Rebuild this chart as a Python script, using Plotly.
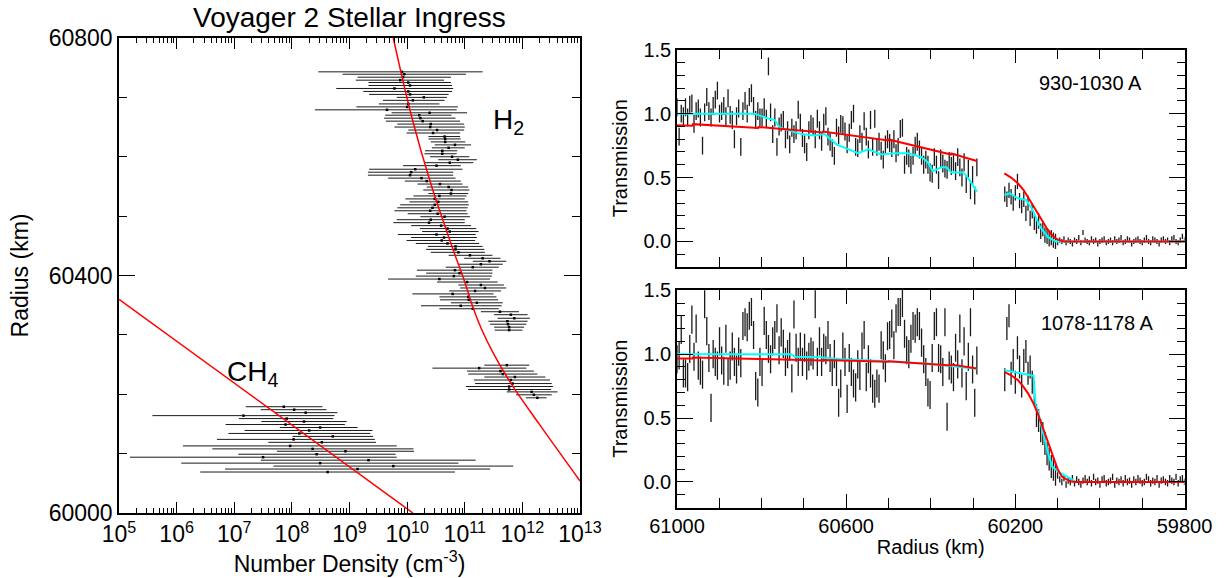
import numpy as np
import plotly.graph_objects as go

# ---------------- Left panel: number density profiles ----------------
H2_R = [60743, 60739, 60734, 60729, 60725, 60720, 60715, 60710, 60705, 60700,
        60695, 60689, 60684, 60679, 60674, 60670, 60665, 60660, 60655, 60650,
        60645, 60640, 60634, 60630, 60625, 60620, 60615, 60610, 60605, 60600,
        60595, 60590, 60585, 60579, 60574, 60569, 60564, 60559, 60554, 60549,
        60544, 60538,
        60534, 60529, 60524, 60519, 60514, 60509, 60504, 60499, 60494, 60489,
        60484, 60479, 60474, 60469, 60464, 60459, 60454, 60449, 60444, 60439,
        60434, 60429, 60424, 60419, 60414, 60409, 60404, 60399, 60394, 60389,
        60384, 60379, 60374, 60369, 60364, 60359, 60354, 60349, 60344, 60339,
        60334, 60328, 60323, 60318, 60313, 60308,
        60249, 60244, 60239, 60234, 60229, 60224, 60218, 60213, 60208, 60204,
        60199, 60194]
H2_LOG_LO = [8.46, 8.88, 9.14, 9.11, 9.33, 9.33, 8.77, 9.24, 9.34, 9.82,
             9.58, 9.51, 9.12, 8.40, 9.73, 9.62, 9.60, 9.63, 9.83, 9.78,
             10.02, 9.99, 10.37, 10.37, 10.41, 10.48, 10.43, 10.31, 10.30, 10.40,
             10.54, 10.31, 9.93, 9.34, 9.32, 9.32, 9.67, 9.96, 10.18, 10.34,
             10.28, 10.37,
             10.11, 9.97, 10.04, 9.88, 9.83, 9.78, 10.01, 10.23, 9.82, 9.76,
             10.07, 10.22, 10.26, 9.84, 10.07, 9.99, 10.15, 10.36, 10.33, 10.41,
             10.72, 10.99, 11.14, 10.89, 10.67, 10.17, 10.33, 10.15, 9.67, 10.52,
             10.89, 10.92, 10.73, 10.09, 10.56, 10.57, 10.76, 10.24, 10.56, 11.28,
             11.51, 11.57, 11.41, 11.44, 11.51, 11.52,
             11.34, 10.44, 11.04, 11.06, 11.34, 11.16, 11.18, 11.02, 11.06, 11.73,
             11.89, 12.06]
H2_LOG_HI = [11.31, 11.02, 10.76, 10.64, 10.76, 10.78, 10.80, 10.78, 10.72, 10.69,
             10.65, 10.56, 10.88, 10.86, 11.04, 10.77, 10.84, 10.92, 10.99, 11.00,
             10.99, 10.92, 10.92, 10.93, 11.01, 11.11, 11.00, 10.87, 10.86, 11.08,
             11.21, 11.15, 10.93, 10.96, 10.80, 10.80, 10.84, 10.93, 10.96, 11.06,
             11.08, 11.06,
             11.03, 11.00, 11.06, 11.07, 11.05, 11.03, 11.05, 11.09, 11.00, 11.00,
             11.11, 11.20, 11.24, 11.19, 11.21, 11.18, 11.25, 11.31, 11.34, 11.35,
             11.48, 11.62, 11.72, 11.66, 11.59, 11.48, 11.48, 11.47, 11.44, 11.57,
             11.68, 11.72, 11.63, 11.50, 11.55, 11.58, 11.66, 11.64, 11.59, 11.94,
             12.09, 12.13, 12.09, 12.07, 12.03, 12.00,
             12.12, 12.07, 12.20, 12.26, 12.40, 12.48, 12.51, 12.53, 12.50, 12.61,
             12.51, 12.42]
H2_LOG_C = [9.91, 9.95, 9.93, 9.88, 10.02, 10.05, 9.78, 10.02, 10.05, 10.29,
            10.10, 10.02, 10.00, 9.65, 10.39, 10.21, 10.23, 10.27, 10.41, 10.40,
            10.52, 10.45, 10.65, 10.66, 10.66, 10.83, 10.72, 10.61, 10.61, 10.78,
            10.88, 10.74, 10.51, 10.14, 10.07, 10.05, 10.25, 10.34, 10.57, 10.72,
            10.77, 10.76,
            10.56, 10.48, 10.54, 10.48, 10.44, 10.40, 10.53, 10.65, 10.41, 10.38,
            10.59, 10.70, 10.74, 10.51, 10.64, 10.60, 10.70, 10.84, 10.84, 10.89,
            11.09, 11.31, 11.43, 11.28, 11.14, 10.83, 10.91, 10.81, 10.56, 11.04,
            11.28, 11.35, 11.18, 10.79, 11.06, 11.07, 11.21, 10.93, 11.14, 11.61,
            11.80, 11.86, 11.74, 11.75, 11.77, 11.77,
            11.73, 11.25, 11.62, 11.66, 11.87, 11.80, 11.83, 11.77, 11.77, 12.16,
            12.20, 12.26]

CH4_R = [60179, 60174, 60169, 60164, 60159, 60154, 60149, 60144, 60139, 60134,
         60129, 60124, 60119, 60113, 60108, 60104, 60099, 60094, 60089, 60084,
         60079, 60074, 60069]
CH4_LOG_LO = [7.20, 7.46, 7.69, 5.58, 7.08, 7.47, 6.85, 7.79, 7.18, 6.90,
              8.01, 6.70, 7.59, 6.11, 6.62, 7.74, 7.07, 5.19, 7.46, 6.08,
              7.68, 6.84, 6.41]
CH4_LOG_HI = [8.53, 8.60, 8.79, 8.74, 8.72, 8.95, 8.92, 9.14, 9.40, 9.36,
              9.41, 9.44, 9.46, 9.82, 10.11, 10.12, 9.80, 9.82, 11.19, 10.89,
              11.84, 11.44, 10.83]
CH4_LOG_C = [7.86, 8.04, 8.24, 7.16, 7.91, 8.21, 7.89, 8.49, 8.30, 8.13,
             8.71, 8.03, 8.52, 7.97, 8.36, 8.93, 8.43, 7.50, 9.33, 8.49,
             9.76, 9.14, 8.62]

H2_FIT_R = [60800, 60667, 60555, 60443, 60392, 60350, 60310, 60270, 60220, 60150, 60054]
H2_FIT_LOG = [9.76, 10.08, 10.41, 10.80, 10.99, 11.13, 11.29, 11.49, 11.79, 12.29, 13.0]
CH4_FIT_R = [60360, 60000]
CH4_FIT_LOG = [5.0, 10.1]

DECADES = [5, 6, 7, 8, 9, 10, 11, 12, 13]

# ---------------- Right panels: transmission ----------------
TOP1_START, TOP1_END = 61000, 60291
TOP1 = [1.05, 0.82, 1.00, 0.98, 1.05, 0.97, 1.07, 1.08, 0.92, 1.02,
        1.04, 0.97, 0.75, 1.01, 1.13, 1.02, 0.97, 1.06, 1.11, 1.18,
        1.00, 1.02, 1.06, 0.98, 1.12, 0.99, 0.95, 0.80, 0.98, 1.04,
        0.74, 1.02, 1.10, 1.00, 1.13, 1.16, 1.06, 0.95, 1.02, 0.97,
        0.97, 1.05, 0.96, 1.37, 1.01, 0.84, 0.97, 0.74, 0.90, 0.93,
        0.95, 0.80, 0.87, 0.76, 0.89, 0.84, 0.87, 1.03, 0.93, 0.81,
        0.76, 0.70, 0.87, 0.92, 0.90, 0.80, 0.96, 0.87, 0.78, 0.93,
        0.98, 0.82, 0.78, 0.73, 0.67, 0.89, 0.83, 0.92, 0.91, 0.86,
        0.76, 0.85, 0.95, 1.00, 0.74, 0.73, 0.84, 0.78, 0.94, 0.82,
        0.72, 0.95, 0.74, 0.96, 0.74, 0.78, 0.71, 0.64, 0.76, 0.80,
        0.77, 0.73, 0.80, 0.69, 0.74, 0.88, 0.89, 0.60, 0.67, 0.65,
        0.60, 0.67, 0.75, 0.78, 0.72, 0.67, 0.60, 0.64, 0.60, 0.54,
        0.53, 0.66, 0.60, 0.48, 0.65, 0.61, 0.57, 0.56, 0.63, 0.59,
        0.62, 0.55, 0.66, 0.58, 0.50, 0.62, 0.45, 0.57, 0.40, 0.52, 0.36, 0.58]
TOP2_START, TOP2_END = 60225, 59800
TOP2 = [0.37, 0.33, 0.40, 0.35, 0.30, 0.38, 0.47, 0.32, 0.28, 0.33,
        0.22, 0.30, 0.18, 0.24, 0.15, 0.12, 0.16, 0.08, 0.10, 0.05,
        0.04, 0.02, 0.03, 0.01, 0.00, -0.01, 0.01, 0.00, 0.02, -0.01,
        0.01, 0.00, -0.02, 0.01, 0.00, 0.03, -0.01, 0.07, 0.01, 0.00,
        -0.01, 0.02, 0.00, 0.01, -0.02, 0.00, 0.01, 0.02, -0.01, 0.00,
        0.01, -0.01, 0.02, 0.00, 0.01, 0.03, -0.01, 0.00, 0.02, 0.01,
        -0.02, 0.00, 0.01, 0.02, 0.00, -0.01, 0.01, 0.03, 0.00, -0.01,
        0.02, 0.01, 0.00, -0.02, 0.01, 0.02, 0.00, 0.01, -0.01, 0.02,
        0.03, 0.00, -0.01, 0.01, 0.04, 0.01]
BOT1 = [0.96, 0.99, 1.19, 0.85, 0.85, 0.82, 1.04, 1.27, 0.98, 1.20,
        0.91, 0.87, 0.84, 1.39, 1.18, 0.97, 0.58, 1.00, 0.94, 0.91,
        1.10, 0.95, 0.87, 1.12, 0.86, 0.91, 1.06, 0.94, 0.88, 1.02,
        0.93, 1.22, 1.25, 1.21, 1.30, 1.33, 1.15, 0.75, 0.70, 0.94,
        0.86, 1.26, 1.15, 1.04, 0.96, 1.10, 1.15, 1.28, 1.03, 1.17,
        1.08, 0.94, 1.00, 1.06, 0.81, 1.31, 1.05, 0.94, 1.06, 0.94,
        1.05, 0.91, 0.98, 1.02, 0.99, 1.39, 0.94, 1.10, 0.94, 1.05,
        1.03, 1.15, 0.97, 0.86, 1.00, 0.86, 0.62, 0.77, 1.06, 0.94,
        0.65, 0.97, 0.86, 0.77, 0.74, 0.92, 0.83, 1.06, 1.15, 0.82,
        0.96, 0.85, 0.73, 0.69, 0.77, 0.73, 1.07, 0.99, 0.89, 1.14,
        1.15, 1.24, 1.07, 1.28, 1.33, 1.33, 1.40, 1.16, 1.03, 1.00,
        1.12, 1.22, 1.20, 1.25, 1.22, 1.09, 0.96, 0.86, 0.70, 0.68,
        0.97, 1.22, 1.25, 0.97, 0.96, 0.86, 1.25, 0.51, 0.91, 0.88,
        0.82, 1.05, 0.92, 1.20, 0.85, 1.10, 0.75, 0.98, 1.25, 0.88, 0.62, 0.95]
BOT2 = [0.80, 1.20, 1.30, 0.85, 0.95, 0.78, 1.05, 0.90, 0.75, 0.95,
        1.02, 0.85, 0.90, 0.78, 0.70, 0.52, 0.48, 0.40, 0.38, 0.30,
        0.22, 0.18, 0.12, 0.10, 0.06, 0.05, 0.02, 0.00, 0.03, -0.02,
        0.01, 0.00, 0.03, -0.01, 0.02, 0.00, -0.02, 0.01, 0.03, 0.00,
        0.02, -0.01, 0.04, 0.00, 0.01, -0.02, 0.02, 0.03, -0.01, 0.00,
        0.01, 0.04, -0.02, 0.01, 0.00, 0.02, -0.01, 0.03, 0.00, 0.01,
        -0.02, 0.02, 0.00, 0.03, 0.01, -0.01, 0.00, 0.04, 0.02, -0.01,
        0.01, 0.00, 0.03, -0.02, 0.01, 0.02, 0.00, -0.01, 0.03, 0.01,
        0.00, 0.04, -0.01, 0.02, 0.03, 0.00]
TOP1_HALF, TOP2_HALF_DROP, TOP2_HALF_FLAT = 0.07, 0.06, 0.02
BOT1_HALF, BOT2_HALF_DROP, BOT2_HALF_FLAT = 0.11, 0.09, 0.025
FLAT_BELOW = 60100

RED_TOP1_R = [61000, 60963, 60962, 60808, 60807, 60656, 60655, 60501, 60500, 60352, 60351, 60291]
RED_TOP1_V = [0.910, 0.905, 0.918, 0.888, 0.896, 0.852, 0.860, 0.790, 0.798, 0.680, 0.688, 0.630]
RED_TOP2_R = [60226, 60210, 60194, 60180, 60166, 60152, 60137, 60125, 60114, 60104, 60095, 60085, 59800]
RED_TOP2_V = [0.532, 0.50, 0.455, 0.40, 0.325, 0.245, 0.169, 0.10, 0.052, 0.022, 0.008, 0.0, 0.0]
CYAN_TOP1_R = [61000, 60816, 60793, 60769, 60757, 60738, 60706, 60675, 60651, 60623, 60595, 60572, 60548,
               60517, 60485, 60454, 60422, 60407, 60395, 60375, 60363, 60351, 60323, 60308, 60291]
CYAN_TOP1_V = [1.00, 1.00, 0.97, 0.95, 0.89, 0.87, 0.84, 0.83, 0.84, 0.76, 0.72, 0.69, 0.72,
               0.68, 0.69, 0.69, 0.66, 0.62, 0.55, 0.58, 0.58, 0.54, 0.54, 0.48, 0.39]
CYAN_TOP2_R = [60226, 60213, 60194, 60175, 60161, 60142, 60123, 60104, 59800]
CYAN_TOP2_V = [0.364, 0.377, 0.338, 0.325, 0.26, 0.117, 0.034, 0.0, 0.0]

RED_BOT1_R = [61000, 60963, 60962, 60808, 60807, 60656, 60655, 60501, 60500, 60352, 60351, 60291]
RED_BOT1_V = [0.966, 0.966, 0.974, 0.958, 0.963, 0.951, 0.955, 0.940, 0.944, 0.912, 0.918, 0.888]
RED_BOT2_R = [60226, 60210, 60194, 60182, 60170, 60158, 60147, 60137, 60128, 60118, 60109, 60100, 60090, 60071, 60060, 59800]
RED_BOT2_V = [0.862, 0.835, 0.797, 0.75, 0.693, 0.62, 0.536, 0.44, 0.354, 0.26, 0.172, 0.10, 0.042, 0.005, 0.0, 0.0]
CYAN_BOT1_R = [61000, 60730, 60722, 60661, 60611, 60501, 60407, 60344, 60291]
CYAN_BOT1_V = [1.0, 1.0, 0.98, 0.975, 0.96, 0.945, 0.925, 0.905, 0.885]
CYAN_BOT2_R = [60226, 60157, 60152, 60147, 60137, 60123, 60113, 60094, 60066, 60057, 59800]
CYAN_BOT2_V = [0.875, 0.831, 0.60, 0.56, 0.42, 0.23, 0.12, 0.07, 0.02, 0.0, 0.0]

FONT = "Liberation Sans, Arial, Helvetica, sans-serif"
BAR = "#1a1a1a"

fig = go.Figure()


def hbars(R, lo, hi):
    xs, ys = [], []
    for r, a, b in zip(R, lo, hi):
        xs += [10 ** a, 10 ** b, None]
        ys += [r, r, None]
    return xs, ys


for R, lo, hi, c in [(H2_R, H2_LOG_LO, H2_LOG_HI, H2_LOG_C),
                     (CH4_R, CH4_LOG_LO, CH4_LOG_HI, CH4_LOG_C)]:
    xs, ys = hbars(R, lo, hi)
    fig.add_trace(go.Scatter(x=xs, y=ys, mode="lines", line=dict(color=BAR, width=1),
                             xaxis="x", yaxis="y", hoverinfo="skip"))
    fig.add_trace(go.Scatter(x=[10 ** v for v in c], y=R, mode="markers",
                             marker=dict(symbol="square", size=2.5, color="black"),
                             xaxis="x", yaxis="y"))

fig.add_trace(go.Scatter(x=[10 ** v for v in H2_FIT_LOG], y=H2_FIT_R, mode="lines",
                         line=dict(color="red", width=1.5, shape="spline"), xaxis="x", yaxis="y"))
fig.add_trace(go.Scatter(x=[10 ** v for v in CH4_FIT_LOG], y=CH4_FIT_R, mode="lines",
                         line=dict(color="red", width=1.5), xaxis="x", yaxis="y"))


def vbars(start, end, vals, half_fn):
    Rg = np.linspace(start, end, len(vals))
    xs, ys = [], []
    for r, v in zip(Rg, vals):
        h = half_fn(r)
        xs += [r, r, None]
        ys += [v - h, v + h, None]
    return xs, ys


panels = [
    ("x2", "y2", TOP1, TOP2, TOP1_HALF, TOP2_HALF_DROP, TOP2_HALF_FLAT,
     (RED_TOP1_R, RED_TOP1_V), (RED_TOP2_R, RED_TOP2_V),
     (CYAN_TOP1_R, CYAN_TOP1_V), (CYAN_TOP2_R, CYAN_TOP2_V)),
    ("x3", "y3", BOT1, BOT2, BOT1_HALF, BOT2_HALF_DROP, BOT2_HALF_FLAT,
     (RED_BOT1_R, RED_BOT1_V), (RED_BOT2_R, RED_BOT2_V),
     (CYAN_BOT1_R, CYAN_BOT1_V), (CYAN_BOT2_R, CYAN_BOT2_V)),
]
for xa, ya, d1, d2, h1, hd, hf, r1, r2, c1, c2 in panels:
    xs1, ys1 = vbars(TOP1_START, TOP1_END, d1, lambda r, h1=h1: h1)
    xs2, ys2 = vbars(TOP2_START, TOP2_END, d2, lambda r, hd=hd, hf=hf: hd if r > FLAT_BELOW else hf)
    fig.add_trace(go.Scatter(x=xs1 + xs2, y=ys1 + ys2, mode="lines",
                             line=dict(color=BAR, width=1.3), xaxis=xa, yaxis=ya, hoverinfo="skip"))
    for (rr, vv) in (c1, c2):
        fig.add_trace(go.Scatter(x=rr, y=vv, mode="lines", line=dict(color="#00ffff", width=2),
                                 xaxis=xa, yaxis=ya))
    for (rr, vv) in (r1, r2):
        fig.add_trace(go.Scatter(x=rr, y=vv, mode="lines", line=dict(color="#ff0000", width=2),
                                 xaxis=xa, yaxis=ya))

W, H = 1229, 578
def px(x):
    return x / W
def py(y):
    return 1 - y / H

axis_common = dict(showline=True, linecolor="black", linewidth=1.5, mirror="ticks",
                   ticks="inside", tickcolor="black", showgrid=False, zeroline=False,
                   automargin=False,
                   tickfont=dict(family=FONT, size=20, color="black"))

major_vals = [10 ** d for d in DECADES]
major_text = ["10<sup>%d</sup>" % d for d in DECADES]
minor_logs = [m * 10 ** d for d in DECADES[:-1] for m in range(2, 10)]

fig.update_layout(
    width=W, height=H, autosize=False, showlegend=False,
    margin=dict(l=0, r=0, t=0, b=0),
    paper_bgcolor="white", plot_bgcolor="white",
    font=dict(family=FONT, color="black"),
    xaxis=dict(axis_common, type="log", range=[5, 13], tickmode="array",
               tickvals=major_vals, ticktext=major_text,
               ticklen=11, tickwidth=1.2, domain=[px(119), px(580)], anchor="y",
               tickfont=dict(family=FONT, size=23, color="black"),
               minor=dict(tickvals=minor_logs, ticks="inside", ticklen=5, tickcolor="black"),
               title=dict(text="Number Density (cm<sup>-3</sup>)", font=dict(family=FONT, size=23),
                          standoff=4)),
    yaxis=dict(axis_common, range=[60000, 60800], tick0=60000, dtick=400, tickformat="d",
               ticklen=16, tickwidth=1.2, domain=[py(513), py(38)], anchor="x",
               tickfont=dict(family=FONT, size=23, color="black"),
               minor=dict(dtick=100, ticks="inside", ticklen=8, tickcolor="black"),
               title=dict(text="Radius (km)", font=dict(family=FONT, size=23), standoff=14)),
    xaxis2=dict(axis_common, range=[61000, 59800], tick0=59800, dtick=400, tickformat="d",
                ticklen=14, domain=[px(677), px(1184.5)], anchor="y2", showticklabels=False,
                minor=dict(dtick=100, ticks="inside", ticklen=10, tickcolor="black")),
    yaxis2=dict(axis_common, range=[-0.2, 1.502], tick0=0, dtick=0.5, tickformat=".1f",
                ticklen=16, domain=[py(267), py(49.5)], anchor="x2",
                minor=dict(dtick=0.1, ticks="inside", ticklen=8, tickcolor="black"),
                title=dict(text="Transmission", font=dict(family=FONT, size=20), standoff=10)),
    xaxis3=dict(axis_common, range=[61000, 59800], tick0=59800, dtick=400, tickformat="d",
                ticklen=14, domain=[px(677), px(1184.5)], anchor="y3",
                minor=dict(dtick=100, ticks="inside", ticklen=10, tickcolor="black"),
                title=dict(text="Radius (km)", font=dict(family=FONT, size=20), standoff=4)),
    yaxis3=dict(axis_common, range=[-0.2, 1.502], tick0=0, dtick=0.5, tickformat=".1f",
                ticklen=16, domain=[py(507.5), py(290)], anchor="x3",
                minor=dict(dtick=0.1, ticks="inside", ticklen=8, tickcolor="black"),
                title=dict(text="Transmission", font=dict(family=FONT, size=20), standoff=10)),
)

fig.add_annotation(text="Voyager 2 Stellar Ingress", xref="paper", yref="paper",
                   x=px(349.5), y=py(17), xanchor="center", yanchor="middle", showarrow=False,
                   font=dict(family=FONT, size=28, color="black"))
fig.add_annotation(text="H<sub>2</sub>", xref="x", yref="y", x=11.45, y=60660,
                   xanchor="left", yanchor="middle", showarrow=False,
                   font=dict(family=FONT, size=28, color="black"))
fig.add_annotation(text="CH<sub>4</sub>", xref="x", yref="y", x=6.84, y=60235,
                   xanchor="left", yanchor="middle", showarrow=False,
                   font=dict(family=FONT, size=28, color="black"))
fig.add_annotation(text="930-1030 A", xref="x2", yref="y2", x=60023, y=1.24,
                   xanchor="center", yanchor="middle", showarrow=False,
                   font=dict(family=FONT, size=20, color="black"))
fig.add_annotation(text="1078-1178 A", xref="x3", yref="y3", x=60006, y=1.245,
                   xanchor="center", yanchor="middle", showarrow=False,
                   font=dict(family=FONT, size=20, color="black"))

fig.write_html("out.html")
